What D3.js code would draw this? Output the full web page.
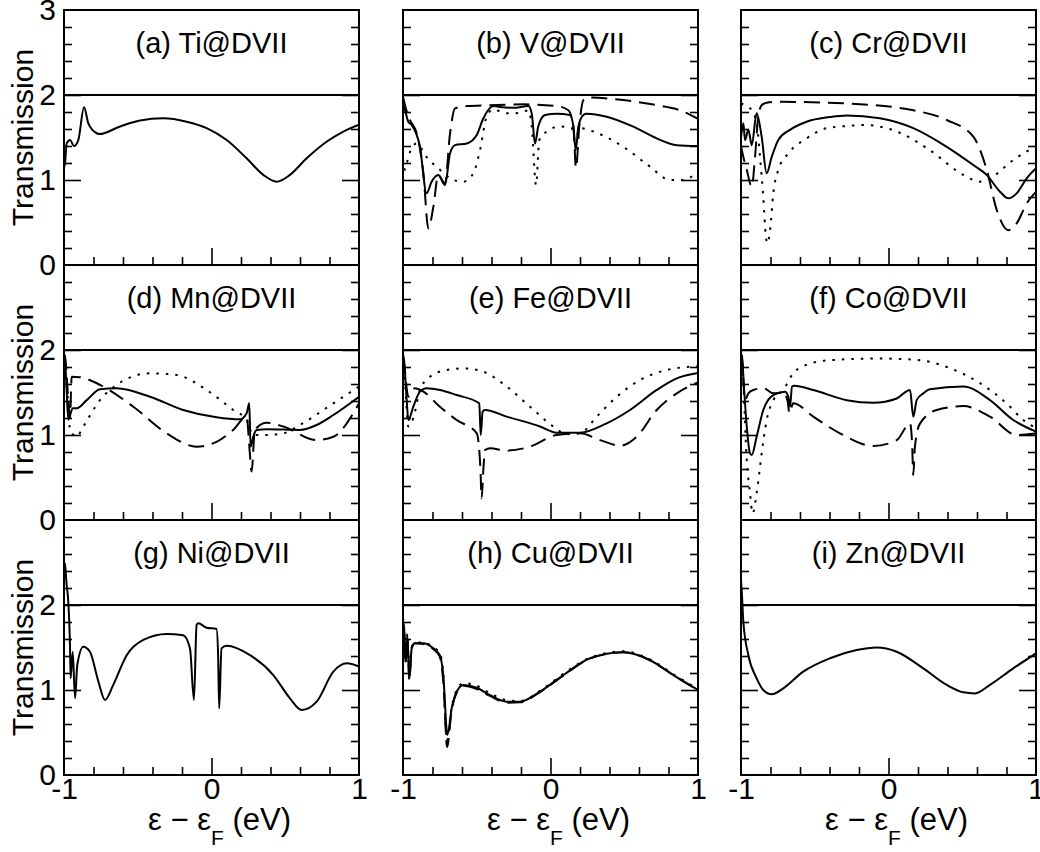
<!DOCTYPE html>
<html>
<head>
<meta charset="utf-8">
<script src="https://cdn.jsdelivr.net/npm/d3@7"></script>
<style>
  body { margin: 0; background: #fff; }
  svg text { font-family: "Liberation Sans", Arial, Helvetica, sans-serif; fill: #000; }
</style>
</head>
<body>
<svg id="chart" width="1040" height="852"></svg>
<script>

// ticks
var xLabels = [-1, 0, 1];
var xMinor = [-0.8, -0.6, -0.4, -0.2, 0.2, 0.4, 0.6, 0.8];
var xMajor = [0];
var yMinor = [0.2, 0.4, 0.6, 0.8, 1.2, 1.4, 1.6, 1.8, 2.2, 2.4, 2.6, 2.8];
var yMajor = [1, 2];

// pristine DVII transmission (flat)
var pristine = [[-1, 2], [1, 2]];

var panelLabels = ["(a) Ti@DVII", "(b) V@DVII", "(c) Cr@DVII",
                   "(d) Mn@DVII", "(e) Fe@DVII", "(f) Co@DVII",
                   "(g) Ni@DVII", "(h) Cu@DVII", "(i) Zn@DVII"];

// [energy, transmission]
var tiTotal = [[-1,1.15],[-0.993,1.2],[-0.982,1.43],[-0.959,1.47],[-0.932,1.4],[-0.903,1.47],[-0.864,1.855],[-0.835,1.667],[-0.778,1.55],[-0.76,1.54],[-0.62,1.63],[-0.485,1.70],[-0.327,1.726],[-0.168,1.686],[-0.033,1.61],[0.103,1.47],[0.238,1.255],[0.351,1.06],[0.441,0.98],[0.532,1.06],[0.645,1.255],[0.78,1.45],[0.894,1.57],[1.0,1.65]];

var vTotal = [[-1,1.9],[-0.986,1.82],[-0.964,1.686],[-0.941,1.647],[-0.885,1.39],[-0.84,0.843],[-0.806,0.98],[-0.761,1.06],[-0.715,0.94],[-0.681,1.314],[-0.647,1.41],[-0.568,1.43],[-0.5,1.53],[-0.455,1.726],[-0.388,1.87],[-0.343,1.86],[-0.252,1.85],[-0.15,1.87],[-0.127,1.78],[-0.105,1.43],[-0.083,1.63],[-0.037,1.765],[0.042,1.78],[0.132,1.765],[0.155,1.63],[0.171,1.35],[0.189,1.63],[0.223,1.765],[0.245,1.78],[0.381,1.745],[0.562,1.627],[0.72,1.49],[0.856,1.41],[1.0,1.4]];
var vUp = [[-1,1.98],[-0.977,1.82],[-0.953,1.706],[-0.907,1.55],[-0.862,1.08],[-0.828,0.43],[-0.794,0.686],[-0.761,1.06],[-0.715,0.96],[-0.681,1.55],[-0.647,1.843],[-0.568,1.87],[-0.41,1.88],[-0.184,1.89],[0.042,1.87],[0.121,1.82],[0.155,1.63],[0.173,1.14],[0.195,1.63],[0.223,1.94],[0.256,1.97],[0.494,1.94],[0.72,1.88],[0.878,1.82],[1.0,1.72]];
var vDown = [[-1,1.25],[-0.986,1.12],[-0.964,1.27],[-0.907,1.43],[-0.84,1.27],[-0.75,1.12],[-0.659,1.0],[-0.591,0.98],[-0.523,1.08],[-0.478,1.35],[-0.433,1.745],[-0.388,1.83],[-0.297,1.784],[-0.207,1.79],[-0.15,1.82],[-0.127,1.63],[-0.098,0.94],[-0.076,1.47],[-0.026,1.57],[0.064,1.63],[0.144,1.61],[0.166,1.47],[0.2,1.61],[0.29,1.57],[0.494,1.39],[0.675,1.157],[0.81,1.0],[0.9,1.0],[1.0,1.1]];

var crTotal = [[-1,1.5],[-0.984,1.667],[-0.973,1.47],[-0.95,1.59],[-0.927,1.41],[-0.894,1.784],[-0.86,1.51],[-0.826,1.08],[-0.792,1.27],[-0.747,1.47],[-0.668,1.59],[-0.555,1.686],[-0.4,1.74],[-0.283,1.76],[-0.058,1.726],[0.168,1.61],[0.395,1.39],[0.575,1.176],[0.666,1.06],[0.756,0.862],[0.812,0.784],[0.869,0.843],[0.937,1.02],[1.0,1.14]];
var crUp = [[-1,1.4],[-0.984,1.27],[-0.961,1.12],[-0.927,0.92],[-0.905,1.27],[-0.883,1.745],[-0.86,1.88],[-0.826,1.91],[-0.736,1.92],[-0.283,1.9],[0.168,1.82],[0.395,1.706],[0.575,1.51],[0.666,1.12],[0.734,0.647],[0.812,0.41],[0.869,0.49],[0.937,0.725],[1.0,0.86]];
var crDown = [[-1,1.9],[-0.973,1.88],[-0.927,1.82],[-0.894,1.667],[-0.871,1.27],[-0.849,0.8],[-0.831,0.333],[-0.822,0.255],[-0.803,0.41],[-0.781,0.843],[-0.747,1.12],[-0.679,1.314],[-0.555,1.49],[-0.419,1.61],[-0.283,1.635],[-0.17,1.647],[0.056,1.57],[0.281,1.35],[0.507,1.06],[0.62,0.98],[0.688,1.02],[0.846,1.235],[1.0,1.4]];

var mnTotal = [[-1,1.95],[-0.993,1.88],[-0.982,1.53],[-0.971,1.18],[-0.941,1.314],[-0.914,1.314],[-0.846,1.41],[-0.756,1.537],[-0.643,1.55],[-0.417,1.45],[-0.192,1.294],[0.034,1.208],[0.193,1.184],[0.238,1.255],[0.256,1.373],[0.265,0.863],[0.283,0.98],[0.306,1.06],[0.374,1.067],[0.6,1.06],[0.713,1.118],[0.826,1.235],[1.0,1.45]];
var mnUp = [[-1,1.95],[-0.993,1.92],[-0.959,1.216],[-0.948,1.686],[-0.892,1.68],[-0.756,1.59],[-0.53,1.333],[-0.304,1.02],[-0.101,0.863],[0.034,0.92],[0.147,1.06],[0.238,1.216],[0.26,0.784],[0.272,0.57],[0.294,1.06],[0.374,1.145],[0.487,1.1],[0.713,0.94],[0.826,0.98],[1.0,1.373]];
var mnDown = [[-1,1.9],[-0.993,1.8],[-0.971,1.35],[-0.959,1.06],[-0.914,0.98],[-0.869,1.1],[-0.756,1.41],[-0.643,1.59],[-0.417,1.726],[-0.236,1.706],[-0.033,1.53],[0.147,1.294],[0.238,1.176],[0.283,1.0],[0.374,1.0],[0.487,1.02],[0.6,1.118],[0.826,1.373],[1.0,1.57]];

var feTotal = [[-1,1.95],[-0.993,1.88],[-0.975,1.41],[-0.964,1.176],[-0.93,1.333],[-0.885,1.51],[-0.84,1.55],[-0.75,1.53],[-0.636,1.47],[-0.483,1.373],[-0.473,1.0],[-0.46,1.275],[-0.444,1.294],[-0.297,1.216],[-0.071,1.1],[0.042,1.027],[0.2,1.027],[0.381,1.137],[0.539,1.294],[0.72,1.53],[0.856,1.667],[1.0,1.73]];
var feUp = [[-1,1.9],[-0.993,1.84],[-0.964,1.45],[-0.919,1.55],[-0.862,1.51],[-0.75,1.333],[-0.636,1.176],[-0.5,1.02],[-0.475,0.6],[-0.467,0.255],[-0.455,0.6],[-0.444,0.823],[-0.41,0.843],[-0.297,0.816],[-0.139,0.863],[0.042,1.0],[0.2,1.02],[0.336,0.94],[0.471,0.874],[0.584,0.98],[0.72,1.294],[0.856,1.49],[1.0,1.62]];
var feDown = [[-1,1.9],[-0.993,1.84],[-0.975,1.3],[-0.964,1.1],[-0.93,1.2],[-0.885,1.53],[-0.817,1.686],[-0.704,1.765],[-0.591,1.784],[-0.455,1.745],[-0.297,1.57],[-0.139,1.333],[0.019,1.1],[0.11,1.01],[0.2,1.02],[0.313,1.216],[0.449,1.45],[0.607,1.647],[0.788,1.765],[1.0,1.81]];

var coTotal = [[-1,1.95],[-0.993,1.92],[-0.98,1.57],[-0.961,1.1],[-0.939,0.784],[-0.927,0.765],[-0.894,0.98],[-0.849,1.294],[-0.781,1.47],[-0.702,1.51],[-0.679,1.45],[-0.668,1.333],[-0.654,1.57],[-0.64,1.58],[-0.51,1.53],[-0.283,1.41],[-0.103,1.38],[0.056,1.43],[0.146,1.53],[0.168,1.216],[0.191,1.41],[0.236,1.49],[0.281,1.537],[0.507,1.57],[0.688,1.41],[0.846,1.176],[1.0,1.04]];
var coUp = [[-1,1.95],[-0.993,1.88],[-0.973,1.41],[-0.95,1.49],[-0.917,1.53],[-0.849,1.55],[-0.781,1.49],[-0.713,1.5],[-0.684,1.4],[-0.672,1.255],[-0.646,1.373],[-0.51,1.216],[-0.329,1.02],[-0.103,0.87],[0.056,0.94],[0.146,1.137],[0.16,0.9],[0.168,0.53],[0.179,0.86],[0.214,1.137],[0.327,1.294],[0.507,1.34],[0.688,1.216],[0.869,1.0],[1.0,1.02]];
var coDown = [[-1,1.95],[-0.993,1.88],[-0.961,0.706],[-0.939,0.314],[-0.921,0.078],[-0.894,0.314],[-0.86,0.784],[-0.826,1.176],[-0.781,1.41],[-0.713,1.53],[-0.646,1.726],[-0.578,1.81],[-0.397,1.88],[-0.058,1.9],[0.214,1.88],[0.395,1.8],[0.62,1.61],[0.8,1.373],[0.914,1.176],[1.0,1.08]];

var niTotal = [[-1,2.5],[-0.993,2.47],[-0.982,2.235],[-0.971,2.04],[-0.959,1.49],[-0.955,1.137],[-0.941,1.45],[-0.925,0.902],[-0.91,1.294],[-0.869,1.51],[-0.824,1.45],[-0.767,1.1],[-0.722,0.882],[-0.666,1.06],[-0.575,1.41],[-0.462,1.59],[-0.304,1.66],[-0.192,1.643],[-0.146,1.49],[-0.119,0.882],[-0.101,1.765],[-0.09,1.784],[-0.033,1.733],[0.034,1.718],[0.045,1.4],[0.052,0.784],[0.068,1.49],[0.103,1.52],[0.261,1.41],[0.419,1.176],[0.532,0.902],[0.611,0.765],[0.713,0.863],[0.826,1.216],[0.917,1.314],[1.0,1.275]];

var cuTotal = [[-1,1.8],[-0.993,1.725],[-0.98,1.333],[-0.971,1.647],[-0.957,1.137],[-0.941,1.49],[-0.919,1.55],[-0.862,1.55],[-0.794,1.49],[-0.75,1.41],[-0.727,1.176],[-0.699,0.47],[-0.67,0.784],[-0.636,0.98],[-0.591,1.06],[-0.5,1.027],[-0.41,0.94],[-0.297,0.863],[-0.207,0.863],[-0.071,0.98],[0.087,1.176],[0.268,1.373],[0.494,1.443],[0.675,1.35],[0.833,1.176],[1.0,1.0]];
var cuUp = [[-1,1.8],[-0.993,1.7],[-0.98,1.3],[-0.971,1.62],[-0.957,1.12],[-0.941,1.5],[-0.919,1.55],[-0.862,1.54],[-0.794,1.48],[-0.75,1.39],[-0.727,1.1],[-0.701,0.33],[-0.67,0.76],[-0.636,0.97],[-0.591,1.05],[-0.5,1.01],[-0.41,0.93],[-0.297,0.85],[-0.207,0.855],[-0.071,0.975],[0.087,1.17],[0.268,1.37],[0.494,1.445],[0.675,1.35],[0.833,1.175],[1.0,1.0]];
var cuDown = [[-1,1.85],[-0.993,1.75],[-0.98,1.35],[-0.971,1.66],[-0.957,1.15],[-0.941,1.5],[-0.919,1.56],[-0.862,1.56],[-0.794,1.5],[-0.75,1.43],[-0.727,1.2],[-0.703,0.4],[-0.67,0.8],[-0.636,1.0],[-0.591,1.08],[-0.5,1.05],[-0.41,0.96],[-0.297,0.88],[-0.207,0.87],[-0.071,0.99],[0.087,1.19],[0.268,1.38],[0.494,1.455],[0.675,1.36],[0.833,1.185],[1.0,1.01]];

var znTotal = [[-1,2.3],[-0.993,2.1],[-0.984,1.8],[-0.95,1.41],[-0.894,1.137],[-0.849,1.0],[-0.792,0.95],[-0.713,1.02],[-0.578,1.216],[-0.397,1.373],[-0.216,1.47],[-0.08,1.5],[0.056,1.45],[0.236,1.255],[0.395,1.06],[0.507,0.973],[0.586,0.96],[0.688,1.06],[0.846,1.255],[1.0,1.43]];

// curves per panel, in order total / up / down
var panelSeries = [
  [tiTotal], [vTotal, vUp, vDown], [crTotal, crUp, crDown],
  [mnTotal, mnUp, mnDown], [feTotal, feUp, feDown], [coTotal, coUp, coDown],
  [niTotal], [cuTotal, cuUp, cuDown], [znTotal]
];

var colLeft = [64, 403, 741]
  , rowTop = [10, 265, 520]
  , pw = 295
  , ph = 255
  , dashes = [null, "16,8", "2.5,7"];

var svg = d3.select("#chart");

var x = d3.scaleLinear().domain([-1, 1]).range([0, pw]);
var y = d3.scaleLinear().domain([0, 3]).range([ph, 0]);

var line = d3.line()
  .x(function(d){ return x(d[0]); })
  .y(function(d){ return y(d[1]); })
  .curve(d3.curveMonotoneX);

svg.append("defs").append("clipPath").attr("id", "panel-clip")
  .append("rect").attr("width", pw).attr("height", ph);

function noDomain(g){
  g.select(".domain").remove();
  g.selectAll(".tick line").attr("stroke", "#000").attr("stroke-width", 1.6);
}

panelLabels.map(function(label, i){

  var col = i % 3, row = Math.floor(i / 3);
  var g = svg.append("g")
    .attr("transform", "translate(" + colLeft[col] + "," + rowTop[row] + ")");

  var plot = g.append("g").attr("clip-path", "url(#panel-clip)");

  plot.append("path")
    .datum(pristine)
    .attr("d", line)
    .attr("fill", "none")
    .attr("stroke", "#000")
    .attr("stroke-width", 2);

  panelSeries[i].map(function(s, k){
    plot.append("path")
      .datum(s)
      .attr("d", line)
      .attr("fill", "none")
      .attr("stroke", "#000")
      .attr("stroke-width", 2)
      .attr("stroke-dasharray", dashes[k]);
  });

  // inward ticks, left + right + bottom
  g.append("g").call(d3.axisRight(y).tickValues(yMinor).tickSize(8).tickFormat("")).call(noDomain);
  g.append("g").call(d3.axisRight(y).tickValues(yMajor).tickSize(17).tickFormat("")).call(noDomain);
  g.append("g").attr("transform", "translate(" + pw + ",0)")
    .call(d3.axisLeft(y).tickValues(yMinor).tickSize(8).tickFormat("")).call(noDomain);
  g.append("g").attr("transform", "translate(" + pw + ",0)")
    .call(d3.axisLeft(y).tickValues(yMajor).tickSize(17).tickFormat("")).call(noDomain);
  g.append("g").attr("transform", "translate(0," + ph + ")")
    .call(d3.axisTop(x).tickValues(xMinor).tickSize(8).tickFormat("")).call(noDomain);
  g.append("g").attr("transform", "translate(0," + ph + ")")
    .call(d3.axisTop(x).tickValues(xMajor).tickSize(17).tickFormat("")).call(noDomain);

  g.append("rect")
    .attr("width", pw).attr("height", ph)
    .attr("fill", "none").attr("stroke", "#000").attr("stroke-width", 2);

  g.append("text")
    .attr("x", pw / 2).attr("y", 43)
    .attr("text-anchor", "middle")
    .style("font-size", "29px")
    .text(label);

  // y labels on the first column
  if (col == 0){
    var yl = g.append("g")
      .call(d3.axisLeft(y).tickValues(row == 0 ? [0, 1, 2, 3] : [0, 1, 2]).tickSize(0).tickPadding(8)
        .tickFormat(function(d){ return String(d); }));
    yl.select(".domain").remove();
    yl.selectAll("text").style("font-size", "30px").attr("font-family", null);

    g.append("text")
      .attr("transform", "translate(" + (33 - colLeft[0]) + "," + (ph / 2) + ") rotate(-90)")
      .attr("text-anchor", "middle")
      .style("font-size", "30px")
      .text("Transmission");
  }

  // x labels on the last row
  if (row == 2){
    var xl = g.append("g").attr("transform", "translate(0," + ph + ")")
      .call(d3.axisBottom(x).tickValues(xLabels).tickSize(0).tickPadding(3)
        .tickFormat(function(d){ return String(d); }));
    xl.select(".domain").remove();
    xl.selectAll("text").style("font-size", "30px").attr("font-family", null);

    var t = g.append("text")
      .attr("x", pw / 2 + 8).attr("y", ph + 55)
      .attr("text-anchor", "middle")
      .style("font-size", "31px");
    t.append("tspan").text("\u03b5 \u2212 \u03b5");
    t.append("tspan").attr("dy", 15).style("font-size", "21px").text("F");
    t.append("tspan").attr("dy", -15).text(" (eV)");
  }
});

</script>
</body>
</html>
